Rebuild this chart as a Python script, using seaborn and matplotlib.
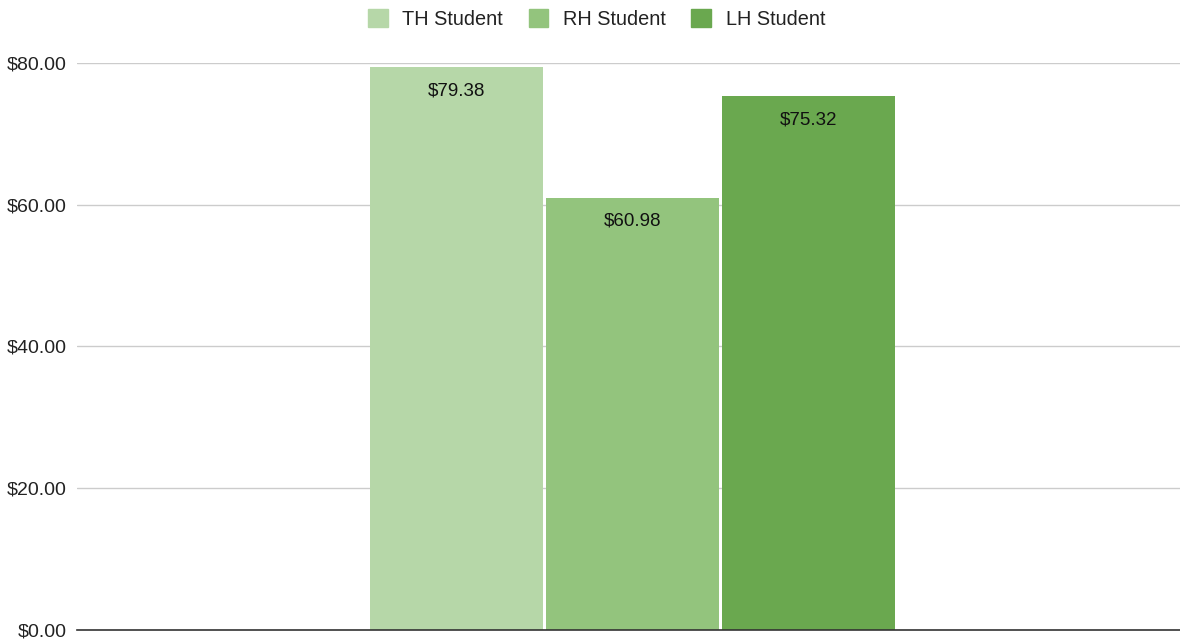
import pandas as pd
import matplotlib.pyplot as plt
import seaborn as sns

# values
groups = ["TH Student", "RH Student", "LH Student"]
prices = [79.38, 60.98, 75.32]
colors = ["#b6d7a8", "#93c47d", "#6aa84f"]
y_ticks = [0, 20, 40, 60, 80]

df = pd.DataFrame({"cat": [""] * len(groups), "group": groups, "price": prices})

sns.set_style("white")
plt.rcParams["font.family"] = ["Liberation Sans", "DejaVu Sans"]

fig = plt.figure(figsize=(11.8, 6.43), dpi=100)
ax = fig.add_axes([0.065, 0.0202, 0.935, 0.882])

sns.barplot(data=df, x="cat", y="price", hue="group", hue_order=groups,
            palette=colors, width=0.478, gap=0.015, saturation=1,
            edgecolor="none", legend=False, ax=ax)

for cont, v in zip(ax.containers, prices):
    ax.bar_label(cont, labels=[f"${v:.2f}"], padding=-23, fontsize=13.5, color="#111111")

ax.set_ylim(0, 80)
ax.set_xlim(-0.5036, 0.4964)
ax.set_yticks(y_ticks)
ax.set_yticklabels([f"${t:.2f}" for t in y_ticks], fontsize=14, color="#222222")
ax.set_xticks([])
ax.set_xlabel("")
ax.set_ylabel("")
ax.tick_params(axis="y", length=0, pad=7)
ax.yaxis.grid(True, color="#cccccc", linewidth=1)
ax.set_axisbelow(True)
for s in ["top", "right", "left"]:
    ax.spines[s].set_visible(False)
ax.spines["bottom"].set_color("#333333")
ax.spines["bottom"].set_linewidth(1.2)
ax.spines["bottom"].set_zorder(5)

handles = [plt.Rectangle((0, 0), 1, 1, color=c) for c in colors]
fig.legend(handles, groups, loc="center", bbox_to_anchor=(0.5055, 0.9705), ncol=3,
           frameon=False, fontsize=14.3, handlelength=1.0, handleheight=1.0,
           columnspacing=1.3, handletextpad=0.72, labelcolor="#222222",
           borderpad=0, borderaxespad=0)

fig.savefig("out.png", dpi=100)
